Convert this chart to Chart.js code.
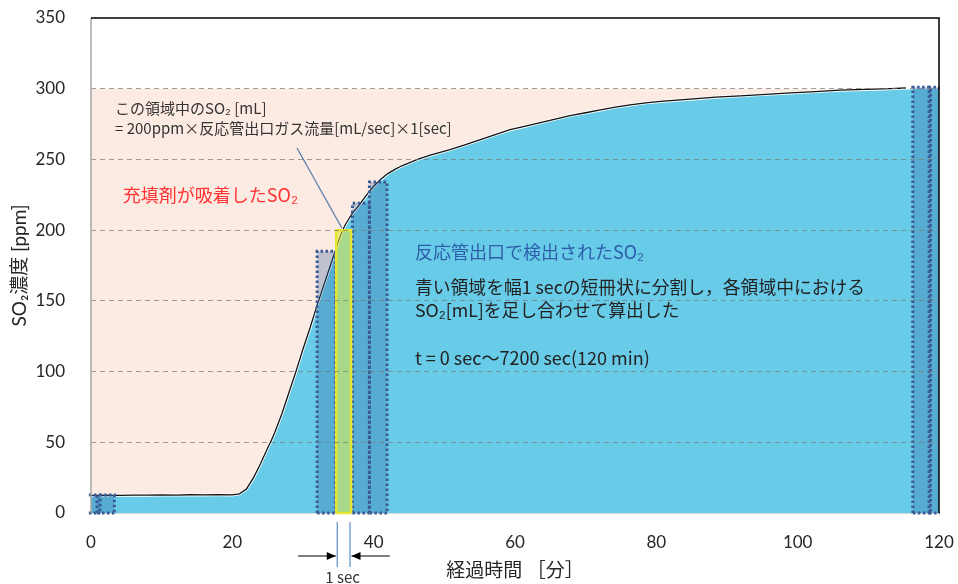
<!DOCTYPE html>
<html><head><meta charset="utf-8">
<script src="https://cdn.jsdelivr.net/npm/chart.js@4/dist/chart.umd.min.js"></script>
<style>html,body{margin:0;padding:0;background:#fff}#wrap{width:958px;height:584px;position:relative}</style>
</head><body><div id="wrap"><canvas id="c"></canvas></div>
<script>
// ---- data ----
const timeMin = [0, 2, 4, 6, 8, 10, 12, 14, 16, 18, 20, 21, 22, 23, 24, 25, 25.4, 26, 27, 28, 29, 30, 31, 32, 33, 34, 35, 35.6, 36, 37, 38, 39, 40, 41, 42, 43, 44, 46.2, 48, 50.8, 53, 55.1, 57.2, 59.3, 61.5, 63.6, 65.7, 67.8, 70, 72.1, 74.2, 76.3, 78.5, 80.6, 84.8, 88.4, 91.9, 95.5, 99, 102.5, 106, 109.6, 113.2, 115.3, 117, 120];
const so2Ppm = [12.4, 12.6, 12.5, 12.7, 12.6, 12.8, 12.7, 12.9, 12.8, 12.9, 12.8, 13.5, 17, 25, 35, 46, 50, 57, 70, 85, 100, 116, 131, 147, 162, 177, 192, 200, 204, 212, 218, 225, 231, 236, 240, 243, 245.5, 250, 253, 257, 260.5, 264, 267.5, 271, 273.5, 276, 278.5, 281, 283, 285, 287, 288.5, 290, 291, 292.6, 294, 295, 296, 297, 298, 299, 299.5, 300, 300.5, 300.8, 301];
const lineEndMin = 115.3;              // the black trace stops here
const feedTimeMin = [0, 120];          // inlet SO2 level (top of the peach region)
const feedPpm = [300, 300];
const stripStartMin = [-0.3, 0.85, 32.0, 34.7, 37.0, 39.4, 116.3, 118.6];
const stripEndMin   = [1.3, 3.3, 34.6, 36.8, 39.4, 41.9, 118.8, 120.1];
const stripPpm      = [12.7, 12.7, 185, 200, 219, 234, 301, 301];
const highlightStrip = 3;
const xTickValues = [0, 20, 40, 60, 80, 100, 120];
const yTickValues = [0, 50, 100, 150, 200, 250, 300, 350];

// ---- styles ----
const PEACH = '#FCEBE2';
const BLUE = '#68CCE8';
const JP = '"Noto Sans CJK JP", sans-serif';
const NUM = 'Lato, "Noto Sans CJK JP", sans-serif';
const DOT = '#3C5A96';

const datasets = [];
datasets.push({
  label: 'feed', data: feedTimeMin.map((t, i) => ({x: t, y: feedPpm[i]})),
  fill: 'origin', backgroundColor: PEACH, borderWidth: 0, pointRadius: 0, order: 30
});
datasets.push({
  label: 'outlet-fill', data: timeMin.map((t, i) => ({x: t, y: so2Ppm[i]})),
  fill: 'origin', backgroundColor: BLUE, borderColor: '#ffffff', borderWidth: 3, pointRadius: 0, order: 29
});
datasets.push({
  label: 'outlet-line', data: timeMin.map((t, i) => ({x: t, y: so2Ppm[i]})).filter(p => p.x <= lineEndMin),
  fill: false, borderColor: '#111111', borderWidth: 1.3, pointRadius: 0, order: 28
});
stripStartMin.forEach((s, i) => {
  const e = stripEndMin[i], h = stripPpm[i];
  const hl = i === highlightStrip;
  datasets.push({
    label: 'strip' + i,
    data: [{x: s, y: 0}, {x: s, y: h}, {x: e, y: h}, {x: e, y: 0}],
    fill: 'origin',
    backgroundColor: hl ? 'rgba(220,225,60,0.55)' : 'rgba(50,100,160,0.30)',
    borderColor: hl ? '#E6E62E' : DOT,
    borderWidth: hl ? 2.5 : 3,
    borderDash: hl ? [] : [2.5, 2.5],
    borderCapStyle: 'butt', borderJoinStyle: 'miter',
    pointRadius: 0, clip: false, tension: 0,
    order: hl ? 0 : 20 - i
  });
  datasets.push({
    label: 'strip-bottom' + i,
    data: [{x: s, y: 0}, {x: e, y: 0}],
    fill: false,
    borderColor: hl ? '#E6E62E' : DOT,
    borderWidth: hl ? 2.5 : 3,
    borderDash: hl ? [] : [2.5, 2.5],
    borderCapStyle: 'butt',
    pointRadius: 0, clip: false,
    order: hl ? 0 : 20 - i
  });
});

const notes = [
  {t: 3.4, v: 286.4, text: 'この領域中のSO₂ [mL]', font: '15px ' + JP, color: '#333333'},
  {t: 3.4, v: 272.0, text: '= 200ppm×反応管出口ガス流量[mL/sec]×1[sec]', font: '15px ' + JP, color: '#333333'},
  {t: 4.5, v: 224.9, text: '充填剤が吸着したSO₂', font: '18px ' + JP, color: '#FF3535'},
  {t: 45.85, v: 184.5, text: '反応管出口で検出されたSO₂', font: '18px ' + JP, color: '#2E5DAA'},
  {t: 45.85, v: 159.8, text: '青い領域を幅1 secの短冊状に分割し，各領域中における', font: '17.8px ' + JP, color: '#222222'},
  {t: 45.85, v: 143.5, text: 'SO₂[mL]を足し合わせて算出した', font: '17.8px ' + JP, color: '#222222'},
  {t: 45.85, v: 109.6, text: 't = 0 sec～7200 sec(120 min)', font: '18px ' + JP, color: '#222222'}
];
const leader = {t1: 29.15, v1: 258.1, t2: 35.5, v2: 201.5};
const secMarks = {left: 34.85, right: 36.65, arrowFromL: 29.3, arrowFromR: 42.3};

function arrow(ctx, x1, y, x2) {
  ctx.beginPath(); ctx.moveTo(x1, y); ctx.lineTo(x2, y); ctx.stroke();
  const d = x2 > x1 ? 1 : -1;
  ctx.beginPath(); ctx.moveTo(x2, y); ctx.lineTo(x2 - d * 9, y - 4); ctx.lineTo(x2 - d * 9, y + 4); ctx.closePath(); ctx.fill();
}

const notePlugin = {
  id: 'notes',
  afterDraw(chart) {
    const ctx = chart.ctx, xs = chart.scales.x, ys = chart.scales.y, a = chart.chartArea;
    ctx.save();
    // left axis line (solid gray)
    ctx.strokeStyle = '#A6A6A6'; ctx.lineWidth = 1.5;
    ctx.beginPath(); ctx.moveTo(a.left, a.top); ctx.lineTo(a.left, a.bottom); ctx.stroke();
    // top & right frame
    ctx.strokeStyle = '#000'; ctx.lineWidth = 1.5;
    ctx.beginPath(); ctx.moveTo(a.left, a.top); ctx.lineTo(a.right, a.top); ctx.lineTo(a.right, a.bottom); ctx.stroke();
    ctx.strokeStyle = '#5A7FAF'; ctx.lineWidth = 1.3;
    ctx.beginPath();
    ctx.moveTo(xs.getPixelForValue(leader.t1), ys.getPixelForValue(leader.v1));
    ctx.lineTo(xs.getPixelForValue(leader.t2), ys.getPixelForValue(leader.v2));
    ctx.stroke();
    ctx.textAlign = 'left'; ctx.textBaseline = 'middle';
    notes.forEach(n => {
      ctx.font = n.font; ctx.fillStyle = n.color;
      ctx.fillText(n.text, xs.getPixelForValue(n.t), ys.getPixelForValue(n.v));
    });
    const xl = xs.getPixelForValue(secMarks.left), xr = xs.getPixelForValue(secMarks.right);
    ctx.strokeStyle = '#6A96CE'; ctx.lineWidth = 1.3;
    ctx.beginPath(); ctx.moveTo(xl, a.bottom + 9); ctx.lineTo(xl, a.bottom + 54);
    ctx.moveTo(xr, a.bottom + 9); ctx.lineTo(xr, a.bottom + 54); ctx.stroke();
    ctx.strokeStyle = '#000'; ctx.fillStyle = '#000'; ctx.lineWidth = 1.2;
    arrow(ctx, xs.getPixelForValue(secMarks.arrowFromL), a.bottom + 43, xl - 1.5);
    arrow(ctx, xs.getPixelForValue(secMarks.arrowFromR), a.bottom + 43, xr + 1.5);
    ctx.font = '15px ' + JP; ctx.fillStyle = '#333'; ctx.textAlign = 'center';
    ctx.fillText('1 sec', (xl + xr) / 2 - 1, a.bottom + 64);
    ctx.restore();
  }
};

new Chart(document.getElementById('c'), {
  type: 'line',
  data: {datasets},
  options: {
    responsive: true, maintainAspectRatio: false, animation: false,
    layout: {padding: {top: 18, right: 19, left: 0, bottom: 0}},
    plugins: {legend: {display: false}, tooltip: {enabled: false}},
    elements: {line: {tension: 0}},
    scales: {
      x: {
        type: 'linear', min: 0, max: 120,
        afterBuildTicks: s => { s.ticks = xTickValues.map(v => ({value: v})); },
        afterFit: s => { s.height = 71; s.paddingLeft = 0; s.paddingRight = 0; },
        grid: {display: false},
        border: {display: true, color: '#A6A6A6', width: 1.5},
        ticks: {padding: 11, color: '#262626', font: {family: NUM, size: 17}, maxRotation: 0},
        title: {display: true, text: '経過時間 ［分］', color: '#262626', font: {family: JP, size: 19}, padding: {top: 0, bottom: 3}}
      },
      y: {
        min: 0, max: 350,
        afterBuildTicks: s => { s.ticks = yTickValues.map(v => ({value: v})); },
        afterFit: s => { s.width = 91; s.paddingTop = 0; s.paddingBottom = 0; },
        grid: {drawTicks: false, lineWidth: 1, z: 1,
          color: c => (c.tick && (c.tick.value === 0 || c.tick.value === 350)) ? 'rgba(0,0,0,0)' : 'rgba(120,120,120,0.7)'},
        border: {display: false, dash: [5, 4]},
        ticks: {padding: 26, color: '#262626', font: {family: NUM, size: 17}},
        title: {display: true, text: 'SO₂濃度 [ppm]', color: '#262626', font: {family: NUM, size: 19}, padding: {top: 8, bottom: 0}}
      }
    }
  },
  plugins: [notePlugin]
});
</script></body></html>
